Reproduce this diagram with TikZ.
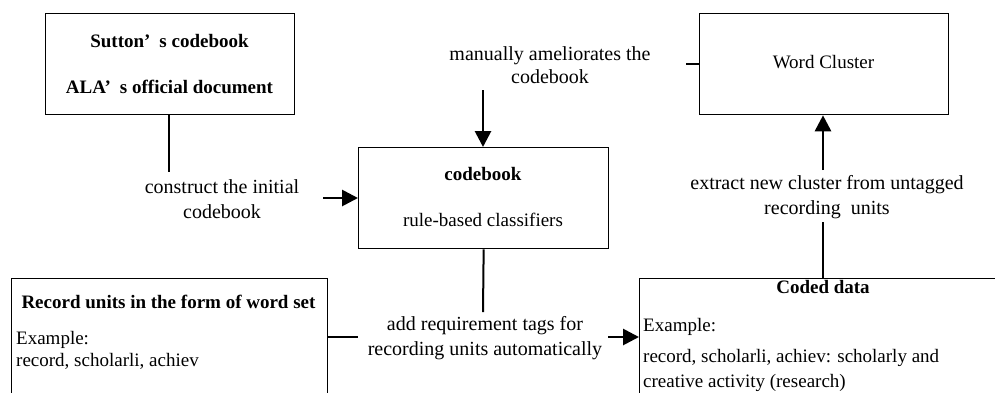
\documentclass[tikz,border=0pt]{standalone}
\usepackage{fontspec}
\setmainfont{Liberation Serif}
\usetikzlibrary{arrows.meta}
\begin{document}
\begin{tikzpicture}[x=1bp,y=-1bp,
  box/.style={draw,line width=1.3bp,rectangle,inner sep=0pt,anchor=north west},
  boxtext/.style={inner sep=0pt,font=\fontsize{19bp}{23bp}\selectfont,text height=13bp,text depth=4bp},
  boldtext/.style={boxtext,font=\fontsize{19bp}{23bp}\selectfont\bfseries},
  lbl/.style={inner sep=0pt,align=center,font=\fontsize{20bp}{25.5bp}\selectfont},
  link/.style={line width=2bp},
  flow/.style={line width=2.8bp,-{Triangle[length=16bp,width=16bp]}}]
\useasboundingbox (0,0) rectangle (995,392);
\clip (0,0) rectangle (995,392);

% boxes
\node[box,minimum width=249bp,minimum height=101bp] (sutton) at (45,13) {};
\node[box,minimum width=250bp,minimum height=101bp] (codebook) at (358,147) {};
\node[box,minimum width=249bp,minimum height=101bp] (word) at (699,13) {};
\node[box,minimum width=316bp,minimum height=150bp] (record) at (11,278) {};
\node[box,minimum width=380bp,minimum height=150bp] (coded) at (639,278) {};

% box contents
\node[boldtext] (t1) at (169.5,43) {Sutton’\hspace{9bp}s codebook};
\node[boldtext] (t2) at (169.5,89) {ALA’\hspace{9bp}s official document};
\node[boldtext] (t3) at (483,176) {codebook};
\node[boxtext] (t4) at (483,222) {rule-based classifiers};
\node[boxtext] (t5) at (823.5,64) {Word Cluster};
\node[boldtext] (t6) at (168.5,304) {Record units in the form of word set};
\node[boxtext,anchor=west] (t7) at (16,340) {Example:};
\node[boxtext,anchor=west] (t8) at (16,362) {record, scholarli, achiev};
\node[boldtext] (t9) at (823,289) {Coded data};
\node[boxtext,anchor=west] (t10) at (643,327) {Example:};
\node[boxtext,anchor=west] (t11) at (643,358) {record, scholarli, achiev: scholarly and};
\node[boxtext,anchor=west] (t12) at (643,383) {creative activity (research)};

% connector labels
\node[lbl] (l1) at (222,199) {construct the initial\\codebook};
\node[lbl,font=\fontsize{20bp}{23bp}\selectfont] (l2) at (550,65) {manually ameliorates the\\codebook};
\node[lbl] (l3) at (485,338) {add requirement tags for\\recording units automatically};
\node[lbl] (l4) at (827,197) {extract new cluster from untagged\\recording\ \ units};

% connector end points
\coordinate (a1) at (169,172);
\coordinate (a2) at (323,198);
\coordinate (b1) at (483,90);
\coordinate (c1) at (483,312);
\coordinate (d1) at (608,337);
\coordinate (e1) at (823,222);
\coordinate (e2) at (823,170);
\coordinate (s1) at (686,64);

% connectors
\draw[link] (sutton.south -| a1) -- (a1);
\draw[flow] (a2) -- (a2 -| codebook.west);
\draw[flow] (b1) -- (b1 |- codebook.north);
\draw[link] (codebook.south) -- (c1);
\draw[link] (record.east |- d1) -- (d1 -| codebook.west);
\draw[flow] (d1) -- (d1 -| coded.west);
\draw[link] (e1 |- coded.north) -- (e1);
\draw[flow] (e2) -- (e2 |- word.south);
\draw[link] (s1) -- (s1 -| word.west);
\end{tikzpicture}
\end{document}
